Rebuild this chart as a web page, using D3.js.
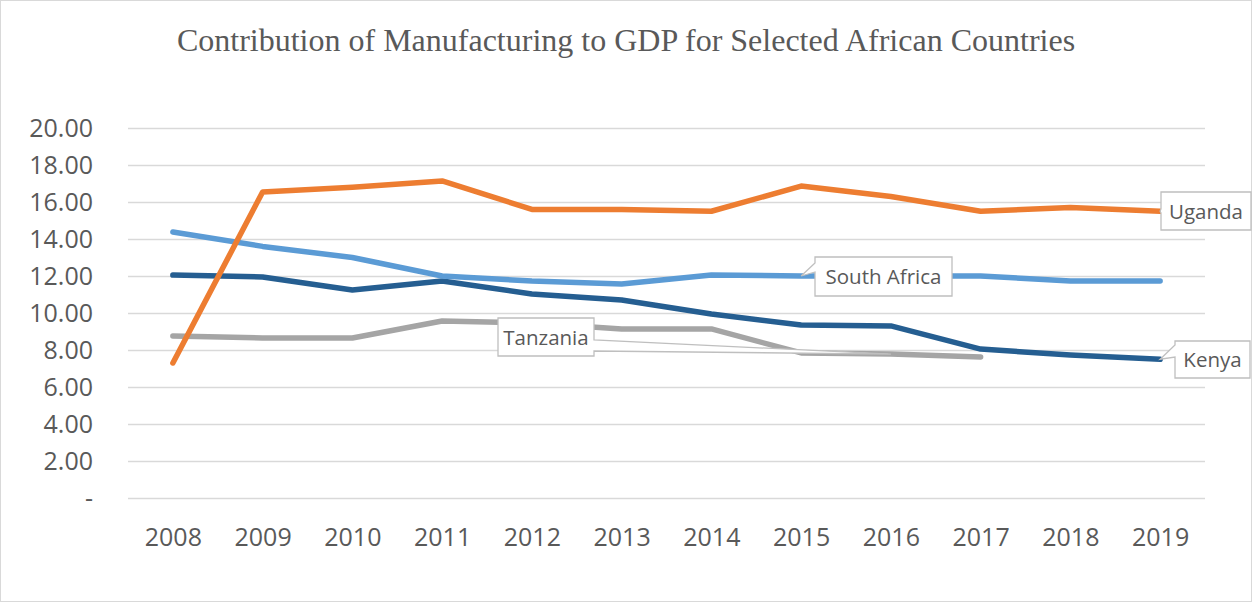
<!DOCTYPE html>
<html>
<head>
<meta charset="utf-8">
<script src="https://cdn.jsdelivr.net/npm/d3@7"></script>
<style>
  html, body { margin: 0; padding: 0; background: #fff; }
  svg { display: block; }
</style>
</head>
<body>
<svg id="chart" width="1252" height="602"></svg>
<script>
// Manufacturing value added, % of GDP
const years = [2008, 2009, 2010, 2011, 2012, 2013, 2014, 2015, 2016, 2017, 2018, 2019];
const kenya       = [12.05, 11.95, 11.24, 11.73, 11.03, 10.70, 9.95, 9.35, 9.30, 8.05, 7.73, 7.50];
const southAfrica = [14.38, 13.60, 13.00, 12.00, 11.73, 11.57, 12.05, 12.00, 12.00, 12.00, 11.73, 11.73];
const tanzania    = [8.76, 8.65, 8.65, 9.57, 9.46, 9.14, 9.14, 7.84, 7.78, 7.62, null, null];
const uganda      = [7.30, 16.54, 16.80, 17.14, 15.60, 15.60, 15.50, 16.86, 16.30, 15.50, 15.70, 15.50];
const yTicks = [0, 2, 4, 6, 8, 10, 12, 14, 16, 18, 20];
const titleText = "Contribution of Manufacturing to GDP for Selected African Countries";

const series = [
  { name: "Kenya", values: kenya, color: "#255E91" },
  { name: "South Africa", values: southAfrica, color: "#5B9BD5" },
  { name: "Tanzania", values: tanzania, color: "#A5A5A5" },
  { name: "Uganda", values: uganda, color: "#ED7D31" }
];

const svg = d3.select("#chart");
const W = 1252, H = 602;
const plot = { left: 128, right: 1205, top: 128, bottom: 498 };

// chart frame
svg.append("rect")
  .attr("x", 0.5).attr("y", 0.5)
  .attr("width", W - 1).attr("height", H - 1)
  .attr("fill", "#fff").attr("stroke", "#D9D9D9");

svg.append("text")
  .attr("x", 626).attr("y", 51)
  .attr("text-anchor", "middle")
  .attr("font-family", "'Liberation Serif', 'Times New Roman', serif")
  .attr("font-size", 32)
  .attr("fill", "#595959")
  .text(titleText);

const x = d3.scalePoint()
  .domain(years)
  .range([plot.left, plot.right])
  .padding(0.5);

const y = d3.scaleLinear()
  .domain([0, 20])
  .range([plot.bottom, plot.top]);

const fmt = v => v === 0 ? "-" : d3.format(".2f")(v);

// horizontal gridlines + value labels
const yAxis = d3.axisLeft(y)
  .tickValues(yTicks)
  .tickFormat(fmt)
  .tickSize(-(plot.right - plot.left))
  .tickPadding(35);

const gy = svg.append("g")
  .attr("transform", `translate(${plot.left},0)`)
  .call(yAxis);
gy.select(".domain").remove();
gy.selectAll(".tick line").attr("stroke", "#D9D9D9").attr("stroke-width", 1.3);
gy.selectAll(".tick text")
  .attr("fill", "#595959")
  .attr("font-family", "'Open Sans', sans-serif")
  .attr("font-size", 25);

// category labels
const xAxis = d3.axisBottom(x).tickSize(0).tickPadding(30);
const gx = svg.append("g")
  .attr("transform", `translate(0,${plot.bottom})`)
  .call(xAxis);
gx.select(".domain").remove();
gx.selectAll(".tick text")
  .attr("fill", "#595959")
  .attr("font-family", "'Open Sans', sans-serif")
  .attr("font-size", 25);

// series lines
const line = d3.line()
  .defined(d => d.v != null)
  .x(d => x(d.year))
  .y(d => y(d.v));

svg.append("g").selectAll("path")
  .data(series)
  .join("path")
  .attr("d", s => line(years.map((yr, i) => ({ year: yr, v: s.values[i] }))))
  .attr("fill", "none")
  .attr("stroke", s => s.color)
  .attr("stroke-width", 5.5)
  .attr("stroke-linejoin", "round")
  .attr("stroke-linecap", "round");

// callout labels: box [x0,y0,x1,y1], pointer side, pointer base span, anchor point from data
function callout(label, box, side, base, tip) {
  const [x0, y0, x1, y1] = box;
  const [a, b] = base;
  let p;
  if (side === "left") {
    p = `M${x0},${y0}H${x1}V${y1}H${x0}V${b}L${tip[0]},${tip[1]}L${x0},${a}Z`;
  } else {
    p = `M${x0},${y0}H${x1}V${a}L${tip[0]},${tip[1]}L${x1},${b}V${y1}H${x0}Z`;
  }
  const g = svg.append("g");
  g.append("path")
    .attr("d", p)
    .attr("fill", "#fff")
    .attr("stroke", "#BFBFBF")
    .attr("stroke-width", 1.3)
    .attr("stroke-linejoin", "miter");
  g.append("text")
    .attr("x", (x0 + x1) / 2)
    .attr("y", (y0 + y1) / 2 + 7.5)
    .attr("text-anchor", "middle")
    .attr("font-family", "'Open Sans', sans-serif")
    .attr("font-size", 20.5)
    .attr("fill", "#595959")
    .text(label);
}

const idx = yr => years.indexOf(yr);
const pt = (vals, yr) => [x(yr), y(vals[idx(yr)])];

callout("Uganda", [1161, 192, 1251, 230], "left", [209, 213], pt(uganda, 2019));
callout("Kenya", [1175, 341, 1250, 378], "left", [345, 357], pt(kenya, 2019));
callout("South Africa", [815, 257, 952, 296], "left", [263, 272], pt(southAfrica, 2015));
callout("Tanzania", [498, 318, 594, 356], "right", [340, 351], pt(tanzania, 2016));
</script>
</body>
</html>
